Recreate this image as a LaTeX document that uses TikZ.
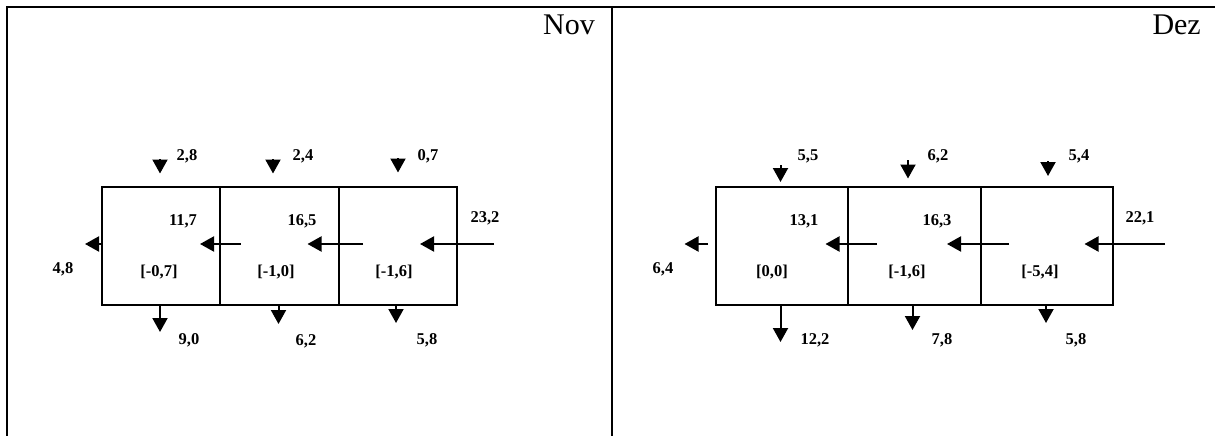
\documentclass[tikz,border=0pt]{standalone}
\usepackage{fontspec}
\setmainfont{Liberation Serif}
\usetikzlibrary{arrows.meta}
\begin{document}
\begin{tikzpicture}[x=1pt,y=-1pt,
  frame/.style={line width=2pt},
  cell/.style={draw, line width=2pt, minimum width=118pt, minimum height=118pt, inner sep=0pt, anchor=north west},
  flow/.style={line width=2pt, -{Triangle[length=14pt,width=15pt]}},
  val/.style={font=\fontsize{16.5}{18}\selectfont\bfseries, inner sep=0pt, text height=11.2pt, text depth=0pt},
  month/.style={font=\fontsize{30}{32}\selectfont, inner sep=0pt, anchor=base east}]
\useasboundingbox (0,0) rectangle (1215,436);
% table frame
\coordinate (tl) at (7,7); \coordinate (tr) at (1215,7);
\coordinate (bl) at (7,436); \coordinate (mt) at (612,7); \coordinate (mb) at (612,436);
\draw[frame] (tr) -- (tl) -- (bl);
\draw[frame] (mt) -- (mb);
\node[month] (nov) at (595,35) {Nov};
\node[month] (dez) at (1201,35) {Dez};
% ---------- Nov ----------
\node[cell, minimum width=118pt] (a1) at (101,185.5) {};
\node[cell, minimum width=118.5pt] (a2) at (219,185.5) {};
\node[cell, minimum width=118.5pt] (a3) at (337.5,185.5) {};
\coordinate (a1t) at (160,159); \coordinate (a1th) at (160,173.5);
\coordinate (a2t) at (273,159); \coordinate (a2th) at (273,173.5);
\coordinate (a3t) at (398,158); \coordinate (a3th) at (398,172.5);
\draw[flow] (a1t) -- (a1th);
\draw[flow] (a2t) -- (a2th);
\draw[flow] (a3t) -- (a3th);
\node[val] (l28) at (187,155) {2,8};
\node[val] (l24) at (303,155) {2,4};
\node[val] (l07) at (428,155) {0,7};
\coordinate (a1b) at (160,332); \coordinate (a2b) at (278.5,324); \coordinate (a3b) at (396,323);
\draw[flow] (a1b |- a1.south) -- (a1b);
\draw[flow] (a2b |- a2.south) -- (a2b);
\draw[flow] (a3b |- a3.south) -- (a3b);
\node[val] (l90) at (189,339) {9,0};
\node[val] (l62) at (306,340) {6,2};
\node[val] (l58a) at (427,339) {5,8};
\coordinate (ain) at (494,244); \coordinate (ainh) at (420,244);
\coordinate (am) at (363,244); \coordinate (amh) at (307.5,244);
\coordinate (al) at (240.5,244); \coordinate (alh) at (200,244);
\coordinate (aout) at (85,244);
\draw[flow] (ain) -- (ainh);
\draw[flow] (am) -- (amh);
\draw[flow] (al) -- (alh);
\draw[flow] (a1.west |- aout) -- (aout);
\node[val] (l117) at (183,220) {11,7};
\node[val] (l165) at (302,220) {16,5};
\node[val] (l232) at (485,217) {23,2};
\node[val] (l48) at (63,268) {4,8};
\node[val] (c1) at (159,271) {[-0,7]};
\node[val] (c2) at (276,271) {[-1,0]};
\node[val] (c3) at (394,271) {[-1,6]};
% ---------- Dez ----------
\node[cell, minimum width=132.5pt] (b1) at (714.5,185.5) {};
\node[cell, minimum width=132.5pt] (b2) at (847,185.5) {};
\node[cell, minimum width=132.5pt] (b3) at (979.5,185.5) {};
\coordinate (b1t) at (780.5,165); \coordinate (b1th) at (780.5,182);
\coordinate (b2t) at (908,160); \coordinate (b2th) at (908,178.5);
\coordinate (b3t) at (1048,161); \coordinate (b3th) at (1048,176);
\draw[flow] (b1t) -- (b1th);
\draw[flow] (b2t) -- (b2th);
\draw[flow] (b3t) -- (b3th);
\node[val] (l55) at (808,155) {5,5};
\node[val] (l62b) at (938,155) {6,2};
\node[val] (l54) at (1079,155) {5,4};
\coordinate (b1b) at (780.5,342); \coordinate (b2b) at (912.5,330); \coordinate (b3b) at (1046,323);
\draw[flow] (b1b |- b1.south) -- (b1b);
\draw[flow] (b2b |- b2.south) -- (b2b);
\draw[flow] (b3b |- b3.south) -- (b3b);
\node[val] (l122) at (815,339) {12,2};
\node[val] (l78) at (942,339) {7,8};
\node[val] (l58b) at (1076,339) {5,8};
\coordinate (bin) at (1165,244); \coordinate (binh) at (1084.5,244);
\coordinate (bm) at (1009,244); \coordinate (bmh) at (947,244);
\coordinate (bl2) at (877,244); \coordinate (blh) at (825.5,244);
\coordinate (bout) at (708,244); \coordinate (bouth) at (684.5,244);
\draw[flow] (bin) -- (binh);
\draw[flow] (bm) -- (bmh);
\draw[flow] (bl2) -- (blh);
\draw[flow] (bout) -- (bouth);
\node[val] (l131) at (804,220) {13,1};
\node[val] (l163) at (937,220) {16,3};
\node[val] (l221) at (1140,217) {22,1};
\node[val] (l64) at (663,268) {6,4};
\node[val] (d1) at (772,271) {[0,0]};
\node[val] (d2) at (907,271) {[-1,6]};
\node[val] (d3) at (1040,271) {[-5,4]};
\end{tikzpicture}
\end{document}
